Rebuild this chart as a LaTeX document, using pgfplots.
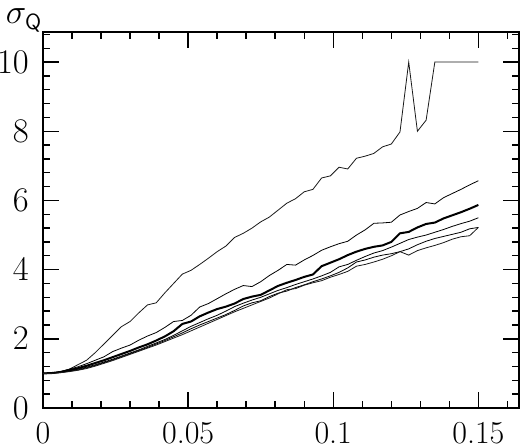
\documentclass[border=0pt]{standalone}
\usepackage{pgfplots}
\pgfplotsset{compat=1.18}
\begin{document}
\begin{tikzpicture}
\begin{axis}[
  name=ax,
  scale only axis,
  width=238pt, height=188pt,
  xmin=0, xmax=0.164, ymin=0, ymax=10.87,
  xtick={0,0.05,0.1,0.15},
  xticklabels={0,0.05,0.1,0.15},
  minor xtick={0.01,0.02,0.03,0.04,0.06,0.07,0.08,0.09,0.11,0.12,0.13,0.14,0.16},
  ytick={0,2,4,6,8,10},
  minor ytick={0.4,0.8,1.2,1.6,2.4,2.8,3.2,3.6,4.4,4.8,5.2,5.6,6.4,6.8,7.2,7.6,8.4,8.8,9.2,9.6,10.4,10.8},
  scaled x ticks=false,
  tick align=inside,
  major tick length=8pt,
  minor tick length=3.5pt,
  every tick/.style={black, line width=0.7pt},
  axis line style={line width=0.9pt},
  tick label style={font=\fontsize{16}{18}\selectfont},
  xticklabel style={yshift=-3.5pt},
  yticklabel style={xshift=-3.6pt},
  clip=false,
  cycle list={{black!90, solid, line width=1pt, mark=none, line join=round}},
]
% curve 1
\addplot table {
0 1.00
0.003 1.01
0.006 1.05
0.009 1.12
0.012 1.25
0.015 1.38
0.018 1.60
0.021 1.85
0.024 2.10
0.027 2.35
0.030 2.50
0.033 2.75
0.036 2.98
0.039 3.04
0.042 3.33
0.045 3.60
0.048 3.87
0.051 3.98
0.054 4.15
0.057 4.33
0.060 4.52
0.063 4.68
0.066 4.93
0.069 5.05
0.072 5.20
0.075 5.38
0.078 5.52
0.081 5.72
0.084 5.92
0.087 6.05
0.090 6.25
0.093 6.32
0.096 6.65
0.099 6.71
0.102 6.96
0.105 6.91
0.108 7.22
0.111 7.28
0.114 7.36
0.117 7.55
0.120 7.63
0.123 7.98
0.126 10.00
0.129 8.00
0.132 8.32
0.135 10.00
0.138 10.00
0.141 10.00
0.144 10.00
0.147 10.00
0.150 10.00
};
% curve 2
\addplot table {
0 1.00
0.003 1.01
0.006 1.05
0.009 1.12
0.012 1.19
0.015 1.28
0.018 1.38
0.021 1.48
0.024 1.63
0.027 1.73
0.030 1.82
0.033 1.96
0.036 2.08
0.039 2.18
0.042 2.33
0.045 2.50
0.048 2.53
0.051 2.68
0.054 2.92
0.057 3.02
0.060 3.16
0.063 3.30
0.066 3.43
0.069 3.54
0.072 3.51
0.075 3.65
0.078 3.83
0.081 3.98
0.084 4.15
0.087 4.13
0.090 4.28
0.093 4.41
0.096 4.56
0.099 4.66
0.102 4.75
0.105 4.82
0.108 5.00
0.111 5.15
0.114 5.34
0.117 5.35
0.120 5.37
0.123 5.58
0.126 5.68
0.129 5.77
0.132 5.94
0.135 5.90
0.138 6.08
0.141 6.20
0.144 6.32
0.147 6.45
0.150 6.57
};
% curve 3
\addplot table {
0 1.00
0.003 1.01
0.006 1.04
0.009 1.09
0.012 1.15
0.015 1.22
0.018 1.30
0.021 1.38
0.024 1.47
0.027 1.56
0.030 1.65
0.033 1.75
0.036 1.84
0.039 1.95
0.042 2.07
0.045 2.22
0.048 2.43
0.051 2.50
0.054 2.65
0.057 2.76
0.060 2.86
0.063 2.93
0.066 3.02
0.069 3.15
0.072 3.22
0.075 3.27
0.078 3.40
0.081 3.53
0.084 3.62
0.087 3.70
0.090 3.79
0.093 3.86
0.096 4.10
0.099 4.20
0.102 4.30
0.105 4.42
0.108 4.52
0.111 4.60
0.114 4.66
0.117 4.70
0.120 4.80
0.123 5.05
0.126 5.09
0.129 5.22
0.132 5.32
0.135 5.36
0.138 5.48
0.141 5.57
0.144 5.66
0.147 5.76
0.150 5.87
};
% curve 4
\addplot table {
0 1.00
0.003 1.01
0.006 1.03
0.009 1.07
0.012 1.12
0.015 1.18
0.018 1.25
0.021 1.33
0.024 1.41
0.027 1.50
0.030 1.59
0.033 1.68
0.036 1.78
0.039 1.88
0.042 1.98
0.045 2.10
0.048 2.23
0.051 2.36
0.054 2.47
0.057 2.58
0.060 2.68
0.063 2.80
0.066 2.93
0.069 3.03
0.072 3.12
0.075 3.20
0.078 3.30
0.081 3.40
0.084 3.48
0.087 3.57
0.090 3.65
0.093 3.73
0.096 3.82
0.099 3.92
0.102 4.08
0.105 4.15
0.108 4.27
0.111 4.38
0.114 4.48
0.117 4.55
0.120 4.65
0.123 4.76
0.126 4.87
0.129 4.94
0.132 5.00
0.135 5.08
0.138 5.16
0.141 5.25
0.144 5.33
0.147 5.40
0.150 5.50
};
% curve 5
\addplot table {
0 1.00
0.003 1.01
0.006 1.03
0.009 1.06
0.012 1.10
0.015 1.16
0.018 1.23
0.021 1.31
0.024 1.39
0.027 1.48
0.030 1.57
0.033 1.66
0.036 1.75
0.039 1.85
0.042 1.95
0.045 2.06
0.048 2.17
0.051 2.29
0.054 2.40
0.057 2.50
0.060 2.60
0.063 2.70
0.066 2.82
0.069 2.95
0.072 3.04
0.075 3.10
0.078 3.22
0.081 3.32
0.084 3.38
0.087 3.48
0.090 3.56
0.093 3.65
0.096 3.73
0.099 3.82
0.102 3.92
0.105 4.05
0.108 4.22
0.111 4.28
0.114 4.36
0.117 4.42
0.120 4.46
0.123 4.52
0.126 4.60
0.129 4.72
0.132 4.82
0.135 4.90
0.138 4.96
0.141 5.02
0.144 5.08
0.147 5.18
0.150 5.22
};
% curve 6
\addplot table {
0 1.00
0.003 1.00
0.006 1.02
0.009 1.05
0.012 1.09
0.015 1.14
0.018 1.21
0.021 1.29
0.024 1.37
0.027 1.46
0.030 1.55
0.033 1.64
0.036 1.73
0.039 1.82
0.042 1.92
0.045 2.02
0.048 2.12
0.051 2.23
0.054 2.34
0.057 2.45
0.060 2.56
0.063 2.67
0.066 2.78
0.069 2.88
0.072 2.98
0.075 3.08
0.078 3.18
0.081 3.30
0.084 3.42
0.087 3.45
0.090 3.55
0.093 3.62
0.096 3.68
0.099 3.78
0.102 3.86
0.105 3.95
0.108 4.10
0.111 4.15
0.114 4.22
0.117 4.30
0.120 4.40
0.123 4.52
0.126 4.42
0.129 4.55
0.132 4.63
0.135 4.70
0.138 4.78
0.141 4.88
0.144 4.95
0.147 4.98
0.150 5.22
};
\end{axis}
\node[anchor=center, inner sep=0pt, font=\fontsize{16}{18}\selectfont] at ([shift={(-9.5pt,5.8pt)}]ax.north west) {$\sigma_{\mathsf{Q}}$};
\pgfresetboundingbox
\path ([shift={(-21.5pt,-20pt)}]ax.south west) rectangle ([shift={(244pt,204pt)}]ax.south west);
\end{tikzpicture}
\end{document}
